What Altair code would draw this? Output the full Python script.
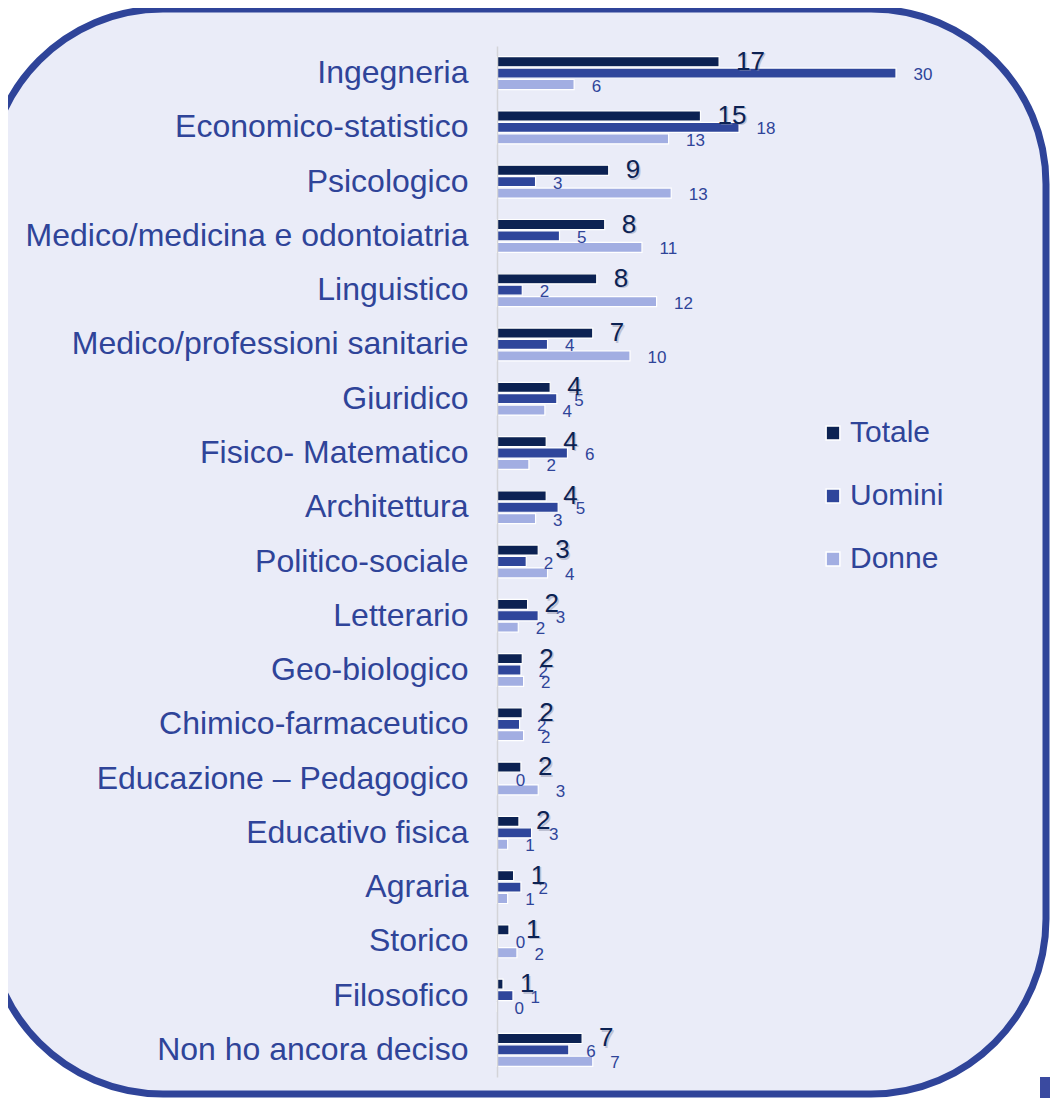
import altair as alt
import pandas as pd

categories = [
    "Ingegneria", "Economico-statistico", "Psicologico",
    "Medico/medicina e odontoiatria", "Linguistico",
    "Medico/professioni sanitarie", "Giuridico", "Fisico- Matematico",
    "Architettura", "Politico-sociale", "Letterario", "Geo-biologico",
    "Chimico-farmaceutico", "Educazione \u2013 Pedagogico", "Educativo fisica",
    "Agraria", "Storico", "Filosofico", "Non ho ancora deciso",
]
series = ["Totale", "Uomini", "Donne"]
colors = ["#0c2253", "#2f469b", "#a2aee2"]

# bar lengths as drawn
totale_bar = [16.7, 15.3, 8.4, 8.1, 7.5, 7.2, 4.0, 3.7, 3.7, 3.1, 2.3, 1.9, 1.9, 1.8, 1.65, 1.25, 0.9, 0.45, 6.4]
uomini_bar = [30.0, 18.2, 2.9, 4.7, 1.9, 3.8, 4.5, 5.3, 4.6, 2.2, 3.1, 1.8, 1.7, 0.1, 2.6, 1.8, 0.1, 1.2, 5.4]
donne_bar = [5.8, 12.9, 13.1, 10.9, 12.0, 10.0, 3.6, 2.4, 2.9, 3.8, 1.6, 2.0, 2.0, 3.1, 0.8, 0.8, 1.5, 0.0, 7.2]
# data labels as printed
totale_lbl = [17, 15, 9, 8, 8, 7, 4, 4, 4, 3, 2, 2, 2, 2, 2, 1, 1, 1, 7]
uomini_lbl = [30, 18, 3, 5, 2, 4, 5, 6, 5, 2, 3, 2, 2, 0, 3, 2, 0, 1, 6]
donne_lbl = [6, 13, 13, 11, 12, 10, 4, 2, 3, 4, 2, 2, 2, 3, 1, 1, 2, 0, 7]

rows = []
for s, bars, lbls in zip(series, [totale_bar, uomini_bar, donne_bar],
                         [totale_lbl, uomini_lbl, donne_lbl]):
    for c, b, l in zip(categories, bars, lbls):
        rows.append({"cat": c, "series": s, "value": b, "label": str(l)})
df = pd.DataFrame(rows)

FONT = "Liberation Sans"
BLUE = "#2f4499"

y_enc = alt.Y("cat:N", sort=categories,
              scale=alt.Scale(paddingInner=0.37, paddingOuter=0.185),
              axis=alt.Axis(title=None, ticks=False, tickSize=0, labelPadding=29,
                            labelFontSize=32, labelFont=FONT, labelColor=BLUE,
                            domainColor="#d4d4d8", domainWidth=1.5, grid=False,
                            labelLimit=600, zindex=1))
yoff = alt.YOffset("series:N", sort=series,
                   scale=alt.Scale(domain=series, paddingInner=0.12, paddingOuter=0.06))
x_enc = alt.X("value:Q", scale=alt.Scale(domain=[0, 30], nice=False, zero=True),
              axis=None)

frame = alt.Chart(pd.DataFrame({"k": [0]})).mark_rect(
    cornerRadius=175, fill="#eaecf8", stroke=BLUE, strokeWidth=7
).encode(x=alt.value(-509), x2=alt.value(549), y=alt.value(-37), y2=alt.value(1048))

corner = alt.Chart(pd.DataFrame({"k": [0]})).mark_rect(
    fill="#3a4aa0"
).encode(x=alt.value(543), x2=alt.value(560), y=alt.value(1031), y2=alt.value(1060))

bars = alt.Chart(df).mark_bar(stroke="white", strokeWidth=1.2).encode(
    y=y_enc, yOffset=yoff, x=x_enc,
    color=alt.Color("series:N", sort=series,
                    scale=alt.Scale(domain=series, range=colors),
                    legend=alt.Legend(title=None, orient="none", legendX=321, legendY=372,
                                      symbolType="square", symbolSize=190,
                                      symbolStrokeColor="white", symbolStrokeWidth=1.5,
                                      labelFontSize=30, labelFont=FONT, labelColor=BLUE,
                                      rowPadding=33, labelOffset=2, padding=0)),
)

tot_shadow = alt.Chart(df).transform_filter(alt.datum.series == "Totale").mark_text(
    align="left", baseline="middle", dx=18.5, dy=1.5, fontSize=26, font=FONT,
    color="#8a8fa8", opacity=0.45
).encode(y=y_enc, yOffset=yoff, x=x_enc, text="label:N")

tot_text = alt.Chart(df).transform_filter(alt.datum.series == "Totale").mark_text(
    align="left", baseline="middle", dx=17, dy=0, fontSize=26, font=FONT, color="#0c2253"
).encode(y=y_enc, yOffset=yoff, x=x_enc, text="label:N")

small_text = alt.Chart(df).transform_filter(alt.datum.series != "Totale").mark_text(
    align="left", baseline="middle", dx=17.5, dy=2, fontSize=17, font=FONT, color=BLUE
).encode(y=y_enc, yOffset=yoff, x=x_enc, text="label:N")

chart = alt.layer(frame, corner, bars, small_text, tot_shadow, tot_text).properties(
    width=399, height=1031,
    padding={"left": 489, "top": 38, "right": 154, "bottom": 21},
    autosize=alt.AutoSizeParams(type="none"),
    background="white",
).configure_view(stroke=None)

chart.save("out.html", embed_options={"renderer": "svg", "actions": False})
